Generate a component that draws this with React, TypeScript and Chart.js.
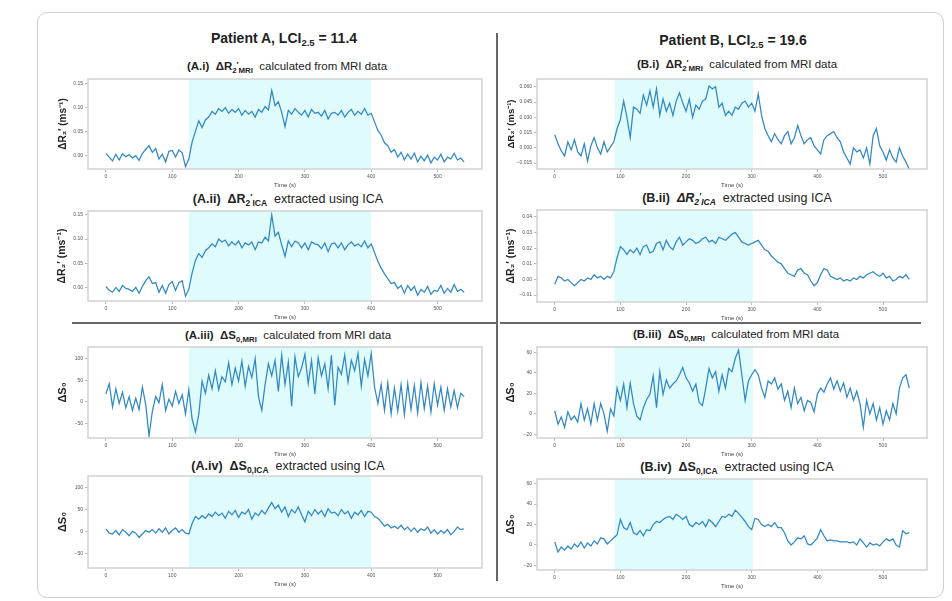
import React, { useEffect, useRef } from "react";
import { Chart, registerables } from "chart.js";
Chart.register(...registerables);

// ---------------- data ----------------
const TIME = [0,5,10,15,20,25,30,35,40,45,50,55,60,65,70,75,80,85,90,95,100,105,110,115,120,125,130,135,140,145,150,155,160,165,170,175,180,185,190,195,200,205,210,215,220,225,230,235,240,245,250,255,260,265,270,275,280,285,290,295,300,305,310,315,320,325,330,335,340,345,350,355,360,365,370,375,380,385,390,395,400,405,410,415,420,425,430,435,440,445,450,455,460,465,470,475,480,485,490,495,500,505,510,515,520,525,530,535,540];

const X_TICKS = [0, 100, 200, 300, 400, 500];
const X_LIMITS = [-27, 567];
const STIM_A = [125, 400];
const STIM_B = [91, 302];

const A_R2_MRI = [
0.004,-0.004,-0.012,0.002,-0.010,0.003,-0.003,0.001,-0.006,-0.001,
-0.011,0.004,0.012,0.020,0.006,0.014,-0.008,0.002,-0.014,0.008,
0.010,-0.004,0.011,0.005,-0.024,-0.008,0.028,0.050,0.072,0.058,
0.074,0.080,0.092,0.086,0.098,0.092,0.100,0.088,0.096,0.090,
0.098,0.084,0.094,0.086,0.092,0.080,0.096,0.090,0.102,0.095,
0.136,0.104,0.112,0.090,0.060,0.094,0.086,0.098,0.090,0.084,
0.094,0.080,0.096,0.088,0.090,0.082,0.094,0.076,0.088,0.090,
0.084,0.094,0.080,0.090,0.096,0.084,0.092,0.086,0.098,0.084,
0.088,0.070,0.052,0.042,0.026,0.020,0.006,0.012,-0.004,0.006,
-0.010,0.002,-0.008,0.004,-0.014,-0.002,-0.012,0.000,-0.016,-0.004,
-0.010,0.002,-0.014,-0.004,-0.008,0.004,-0.010,-0.006,-0.014];

const A_R2_ICA = [
0.002,-0.006,-0.010,0.000,-0.008,0.004,-0.002,-0.004,-0.008,0.000,
-0.012,0.002,0.014,0.022,0.008,0.010,-0.010,0.004,-0.012,0.006,
0.012,-0.006,0.010,0.014,-0.018,-0.004,0.030,0.056,0.070,0.062,
0.076,0.082,0.090,0.084,0.100,0.094,0.098,0.086,0.094,0.088,
0.096,0.082,0.092,0.088,0.094,0.078,0.094,0.092,0.104,0.096,
0.150,0.106,0.114,0.088,0.064,0.096,0.084,0.096,0.092,0.082,
0.092,0.078,0.094,0.090,0.088,0.080,0.092,0.074,0.090,0.092,
0.082,0.092,0.078,0.088,0.094,0.086,0.090,0.084,0.096,0.082,
0.090,0.072,0.054,0.040,0.028,0.018,0.008,0.010,-0.002,0.004,
-0.012,0.004,-0.006,0.002,-0.016,-0.004,-0.010,0.002,-0.014,-0.006,
-0.008,0.004,-0.012,-0.002,-0.010,0.006,-0.008,-0.004,-0.010];

const A_S0_MRI = [
18,42,-12,30,-4,22,-14,12,-20,8,
-18,34,-6,-80,-22,12,-2,40,-20,6,
-10,24,-4,16,-28,28,-40,-70,-30,48,
20,62,30,72,28,58,46,90,40,78,
48,94,36,82,56,100,12,-20,40,88,
60,96,24,108,40,92,-10,104,58,78,
110,42,96,18,102,60,88,30,108,-8,
80,64,108,46,96,72,112,36,98,60,
112,34,-4,40,-20,44,-28,32,-22,40,
-30,42,-18,38,-26,44,-16,36,-24,42,
-8,34,-20,30,-12,26,-14,20,12];

const A_S0_ICA = [
6,-4,-6,2,-8,4,-2,-10,0,-4,
-14,-6,2,-2,4,-4,6,-2,8,-6,
2,8,-2,4,-4,-6,18,34,28,36,
30,40,34,44,36,42,30,46,38,48,
32,44,40,50,28,42,36,48,40,54,
66,52,60,44,56,34,50,42,56,38,
22,46,36,50,40,48,34,52,42,44,
36,50,40,46,30,44,38,48,34,46,
44,34,30,22,12,16,8,12,6,14,
4,10,0,8,-2,6,2,10,-4,4,
-6,2,-4,4,-8,0,10,4,6];

const B_R2_MRI = [
0.013,0.004,-0.003,-0.008,0.006,-0.002,0.008,-0.004,-0.008,0.004,
-0.013,0.002,0.010,0.000,-0.006,0.006,-0.004,0.001,0.006,0.019,
0.028,0.046,0.030,0.010,0.040,0.038,0.034,0.052,0.042,0.056,
0.040,0.058,0.032,0.048,0.036,0.044,0.032,0.046,0.054,0.044,
0.036,0.048,0.030,0.042,0.038,0.046,0.048,0.061,0.058,0.060,
0.040,0.044,0.032,0.036,0.032,0.040,0.038,0.044,0.046,0.040,
0.044,0.036,0.053,0.032,0.019,0.012,0.006,0.014,0.008,0.004,
0.012,0.016,0.004,0.010,0.022,0.012,0.004,0.008,0.010,0.002,
-0.002,-0.006,0.008,0.012,0.014,0.016,0.010,0.006,-0.004,-0.010,
-0.016,0.000,-0.004,-0.002,-0.010,0.000,-0.016,0.012,0.019,0.002,
-0.004,-0.012,-0.002,-0.010,-0.014,0.000,-0.008,-0.014,-0.021];

const B_R2_ICA = [
-0.003,0.002,0.001,-0.001,0.000,-0.002,-0.004,-0.002,0.000,-0.001,
0.001,0.000,0.003,0.001,0.002,0.000,0.002,0.001,0.005,0.014,
0.021,0.019,0.016,0.019,0.017,0.020,0.016,0.021,0.022,0.017,
0.018,0.023,0.024,0.019,0.025,0.021,0.019,0.024,0.027,0.022,
0.024,0.026,0.025,0.023,0.024,0.026,0.027,0.024,0.025,0.023,
0.027,0.026,0.025,0.027,0.029,0.030,0.027,0.024,0.023,0.022,
0.023,0.024,0.025,0.022,0.019,0.018,0.015,0.013,0.011,0.010,
0.007,0.004,0.003,0.002,0.006,0.007,0.004,0.003,-0.001,-0.004,
-0.002,0.003,0.007,0.006,0.002,0.001,0.000,0.001,-0.001,0.000,
-0.001,0.001,0.000,0.002,0.001,0.003,0.004,0.005,0.003,0.002,
0.004,0.001,0.002,-0.001,0.000,0.002,0.001,0.003,0.000];

const B_S0_MRI = [
3,-10,-3,-13,2,-6,-2,-8,10,-6,
5,-10,10,-6,10,0,-17,5,-2,25,
13,29,6,30,10,-2,-6,6,14,19,
37,6,41,19,33,25,29,32,38,45,
35,30,22,29,11,8,25,44,35,41,
22,38,25,44,41,54,62,38,13,32,
38,43,38,25,16,32,29,35,24,29,
13,22,6,25,10,16,3,13,11,2,
19,25,21,29,35,24,32,22,30,16,
25,13,22,10,-13,13,0,10,-6,6,
-10,3,-6,10,0,25,35,38,25];

const B_S0_ICA = [
3,-7,-2,-5,-1,-4,1,-2,3,-3,
2,-1,4,1,7,6,1,4,7,10,
25,17,15,22,12,10,14,9,15,14,
20,23,22,25,27,28,25,30,28,25,
28,20,18,22,20,23,18,25,22,18,
23,28,27,30,28,34,31,27,23,18,
15,26,25,20,18,20,18,22,17,17,
12,4,0,3,7,6,9,1,0,3,
7,15,9,4,5,4,4,3,3,3,
2,3,0,6,2,-2,2,0,1,-1,
3,6,4,6,0,-2,14,11,12];

const Y_TICKS_A_R2 = [0, 0.05, 0.1, 0.15];
const Y_TICKS_B_R2_MRI = [-0.015, 0, 0.015, 0.03, 0.045, 0.06];
const Y_TICKS_B_R2_ICA = [-0.01, 0, 0.01, 0.02, 0.03, 0.04];
const Y_TICKS_A_S0 = [-50, 0, 50, 100];
const Y_TICKS_B_S0 = [-20, 0, 20, 40, 60];

const Y_LIMITS_A_R2_MRI = [-0.029, 0.16];
const Y_LIMITS_A_R2_ICA = [-0.028, 0.158];
const Y_LIMITS_B_R2_MRI = [-0.0208, 0.0677];
const Y_LIMITS_B_R2_ICA = [-0.0144, 0.0444];
const Y_LIMITS_A_S0 = [-84, 127];
const Y_LIMITS_B_S0_MRI = [-23.5, 65];
const Y_LIMITS_B_S0_ICA = [-24.5, 64.6];

const LABEL_R2 = "ΔR₂′ (ms⁻¹)";
const LABEL_S0 = "ΔS₀";

// ---------------- style / layout ----------------
const FONT = "'Liberation Sans', Arial, Helvetica, sans-serif";
const LINE_COLOR = "#3088c4";
const SHADE_COLOR = "#dffbfb";
const FRAME_COLOR = "#d2d2d2";
const PAD_T = 3;
const PAD_R = 4;
const XH = 20;

type Frame = { l: number; t: number; r: number; b: number };
type PanelCfg = {
  series: number[];
  yLim: number[];
  yTicks: number[];
  decimals: number;
  yTitle: string;
  yTitleSize: number;
  stim: number[];
  frame: Frame;
  yw: number;
  yTitlePad: number;
};

const AL = 88, AR = 482, BL = 537, BR = 927;

const PANELS: PanelCfg[] = [
  { series: A_R2_MRI, yLim: Y_LIMITS_A_R2_MRI, yTicks: Y_TICKS_A_R2, decimals: 2, yTitle: LABEL_R2, yTitleSize: 10, stim: STIM_A, frame: { l: AL, t: 77, r: AR, b: 169 }, yw: 44, yTitlePad: 13 },
  { series: A_R2_ICA, yLim: Y_LIMITS_A_R2_ICA, yTicks: Y_TICKS_A_R2, decimals: 2, yTitle: LABEL_R2, yTitleSize: 10.5, stim: STIM_A, frame: { l: AL, t: 209, r: AR, b: 301 }, yw: 44, yTitlePad: 12 },
  { series: A_S0_MRI, yLim: Y_LIMITS_A_S0, yTicks: Y_TICKS_A_S0, decimals: 0, yTitle: LABEL_S0, yTitleSize: 11, stim: STIM_A, frame: { l: AL, t: 345, r: AR, b: 438 }, yw: 44, yTitlePad: 12 },
  { series: A_S0_ICA, yLim: Y_LIMITS_A_S0, yTicks: Y_TICKS_A_S0, decimals: 0, yTitle: LABEL_S0, yTitleSize: 11, stim: STIM_A, frame: { l: AL, t: 474, r: AR, b: 568 }, yw: 44, yTitlePad: 12 },
  { series: B_R2_MRI, yLim: Y_LIMITS_B_R2_MRI, yTicks: Y_TICKS_B_R2_MRI, decimals: 3, yTitle: LABEL_R2, yTitleSize: 9.5, stim: STIM_B, frame: { l: BL, t: 77, r: BR, b: 169 }, yw: 37, yTitlePad: 6 },
  { series: B_R2_ICA, yLim: Y_LIMITS_B_R2_ICA, yTicks: Y_TICKS_B_R2_ICA, decimals: 2, yTitle: LABEL_R2, yTitleSize: 10.5, stim: STIM_B, frame: { l: BL, t: 208, r: BR, b: 302 }, yw: 37, yTitlePad: 5 },
  { series: B_S0_MRI, yLim: Y_LIMITS_B_S0_MRI, yTicks: Y_TICKS_B_S0, decimals: 0, yTitle: LABEL_S0, yTitleSize: 11, stim: STIM_B, frame: { l: BL, t: 345, r: BR, b: 438 }, yw: 37, yTitlePad: 4 },
  { series: B_S0_ICA, yLim: Y_LIMITS_B_S0_ICA, yTicks: Y_TICKS_B_S0, decimals: 0, yTitle: LABEL_S0, yTitleSize: 11, stim: STIM_B, frame: { l: BL, t: 477, r: BR, b: 570 }, yw: 37, yTitlePad: 4 },
];

const shadeFramePlugin = {
  id: "shadeFrame",
  beforeDatasetsDraw(chart: any, _args: any, opts: any) {
    const { ctx, chartArea, scales } = chart;
    const x = scales.x;
    const x0 = x.getPixelForValue(opts.from);
    const x1 = x.getPixelForValue(opts.to);
    ctx.save();
    ctx.fillStyle = SHADE_COLOR;
    ctx.fillRect(x0, chartArea.top, x1 - x0, chartArea.bottom - chartArea.top);
    ctx.restore();
  },
  afterDraw(chart: any) {
    const { ctx, chartArea } = chart;
    ctx.save();
    ctx.strokeStyle = FRAME_COLOR;
    ctx.lineWidth = 1.5;
    ctx.strokeRect(chartArea.left, chartArea.top, chartArea.right - chartArea.left, chartArea.bottom - chartArea.top);
    ctx.restore();
  },
};

function fmt(v: number, d: number) {
  const s = Number(v).toFixed(d);
  return s.startsWith("-") ? "\u2212" + s.slice(1) : s;
}

function Panel({ cfg }: { cfg: PanelCfg }) {
  const ref = useRef<HTMLCanvasElement>(null);
  const fw = cfg.frame.r - cfg.frame.l;
  const fh = cfg.frame.b - cfg.frame.t;
  const W = fw + cfg.yw + PAD_R;
  const H = fh + PAD_T + XH;
  useEffect(() => {
    const chart = new Chart(ref.current as HTMLCanvasElement, {
      type: "line",
      data: {
        datasets: [
          {
            data: TIME.map((t, i) => ({ x: t, y: cfg.series[i] })),
            borderColor: LINE_COLOR,
            borderWidth: 1.25,
            pointRadius: 0,
            tension: 0,
            fill: false,
          },
        ],
      },
      options: {
        responsive: false,
        animation: false,
        devicePixelRatio: 1,
        layout: { padding: { top: PAD_T, right: PAD_R, left: 0, bottom: 0 } },
        plugins: {
          legend: { display: false },
          tooltip: { enabled: false },
          shadeFrame: { from: cfg.stim[0], to: cfg.stim[1] },
        } as any,
        scales: {
          x: {
            type: "linear",
            min: X_LIMITS[0],
            max: X_LIMITS[1],
            afterBuildTicks: (s: any) => {
              s.ticks = X_TICKS.map((v) => ({ value: v }));
            },
            afterFit: (s: any) => {
              s.height = XH;
            },
            ticks: {
              font: { size: 5, family: FONT },
              color: "#555",
              padding: 1.5,
              maxRotation: 0,
              autoSkip: false,
              callback: (v: any) => String(v),
            },
            grid: { drawOnChartArea: false, color: "rgba(0,0,0,0)", tickColor: "#bbb", tickLength: 3 },
            border: { display: false },
            title: { display: true, text: "Time (s)", font: { size: 6, family: FONT }, color: "#444", padding: { top: 3, bottom: 0 } },
          },
          y: {
            type: "linear",
            min: cfg.yLim[0],
            max: cfg.yLim[1],
            afterBuildTicks: (s: any) => {
              s.ticks = cfg.yTicks.map((v) => ({ value: v }));
            },
            afterFit: (s: any) => {
              s.width = cfg.yw;
            },
            ticks: {
              font: { size: 5, family: FONT },
              color: "#555",
              padding: 2,
              autoSkip: false,
              callback: (v: any) => fmt(v, cfg.decimals),
            },
            grid: { drawOnChartArea: false, color: "rgba(0,0,0,0)", tickColor: "#bbb", tickLength: 3 },
            border: { display: false },
            title: {
              display: true,
              text: cfg.yTitle,
              font: { size: cfg.yTitleSize, family: FONT, weight: "bold" },
              color: "#222",
              padding: { top: cfg.yTitlePad, bottom: 0 },
            },
          },
        },
      } as any,
      plugins: [shadeFramePlugin as any],
    });
    return () => chart.destroy();
  }, []);
  return (
    <canvas
      ref={ref}
      width={W}
      height={H}
      style={{ position: "absolute", left: cfg.frame.l - cfg.yw, top: cfg.frame.t - PAD_T, width: W, height: H }}
    />
  );
}

const subS: React.CSSProperties = { fontSize: "0.68em", verticalAlign: "-0.35em", lineHeight: 0 };
const supS: React.CSSProperties = { fontSize: "0.7em", verticalAlign: "0.35em", lineHeight: 0 };

function R2Sym({ which, italic }: { which: string; italic?: boolean }) {
  return (
    <b style={{ fontStyle: italic ? "italic" : "normal" }}>
      ΔR<span style={subS}>2</span>
      <span style={supS}>′</span>
      <span style={subS}>{which}</span>
    </b>
  );
}
function S0Sym({ which }: { which: string }) {
  return (
    <b>
      ΔS<span style={subS}>0,{which}</span>
    </b>
  );
}

function Title({ x, y, size, children }: { x: number; y: number; size: number; children: React.ReactNode }) {
  return (
    <div
      style={{
        position: "absolute",
        left: x,
        top: y,
        transform: "translate(-50%, -50%)",
        whiteSpace: "nowrap",
        fontFamily: FONT,
        fontSize: size,
        color: "#222",
        lineHeight: 1,
      }}
    >
      {children}
    </div>
  );
}

export default function App() {
  return (
    <div style={{ position: "fixed", left: 0, top: 0, width: 952, height: 601, background: "#fff", overflow: "hidden" }}>
      <div
        style={{
          position: "absolute",
          left: 37,
          top: 12,
          width: 907,
          height: 586,
          border: "1.5px solid #cfcfcf",
          borderRadius: 10,
          boxSizing: "border-box",
        }}
      />
      <div style={{ position: "absolute", left: 496, top: 33, width: 2, height: 548, background: "#666" }} />
      <div style={{ position: "absolute", left: 72, top: 322, width: 426, height: 1.5, background: "#666" }} />
      <div style={{ position: "absolute", left: 500, top: 322, width: 421, height: 1.5, background: "#666" }} />

      <Title x={284} y={38} size={14}>
        <b>
          Patient A, LCI<span style={subS}>2.5</span> = 11.4
        </b>
      </Title>
      <Title x={733} y={40} size={14}>
        <b>
          Patient B, LCI<span style={subS}>2.5</span> = 19.6
        </b>
      </Title>

      <Title x={287} y={67} size={11.5}>
        <b>(A.i)</b>&nbsp; <R2Sym which="MRI" />&nbsp; calculated from MRI data
      </Title>
      <Title x={288} y={199} size={12.5}>
        <b>(A.ii)</b>&nbsp; <R2Sym which="ICA" />&nbsp; extracted using ICA
      </Title>
      <Title x={288} y={336} size={11.5}>
        <b>(A.iii)</b>&nbsp; <S0Sym which="MRI" />&nbsp; calculated from MRI data
      </Title>
      <Title x={288} y={466} size={12.5}>
        <b>(A.iv)</b>&nbsp; <S0Sym which="ICA" />&nbsp; extracted using ICA
      </Title>

      <Title x={737} y={65} size={11.5}>
        <b>(B.i)</b>&nbsp; <R2Sym which="MRI" />&nbsp; calculated from MRI data
      </Title>
      <Title x={737} y={198} size={12.5}>
        <b>(B.ii)</b>&nbsp; <R2Sym which="ICA" italic />&nbsp; extracted using ICA
      </Title>
      <Title x={736} y={335} size={11.5}>
        <b>(B.iii)</b>&nbsp; <S0Sym which="MRI" />&nbsp; calculated from MRI data
      </Title>
      <Title x={737} y={467} size={12.5}>
        <b>(B.iv)</b>&nbsp; <S0Sym which="ICA" />&nbsp; extracted using ICA
      </Title>

      {PANELS.map((p, i) => (
        <Panel key={i} cfg={p} />
      ))}
    </div>
  );
}
